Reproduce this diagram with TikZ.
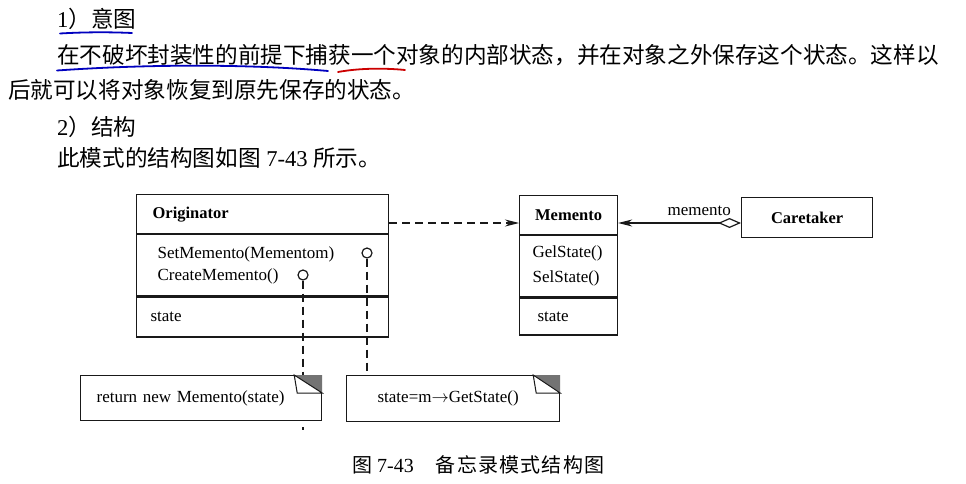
\documentclass[tikz,border=0pt]{standalone}
\usepackage{fontspec}
\setmainfont{Liberation Serif}
\newfontfamily\cjk{Noto Sans CJK SC}
\newfontfamily\cjkcap[LetterSpace=6]{Noto Sans CJK SC}
\usetikzlibrary{arrows.meta,calc}
\tikzset{>={Stealth[length=14pt,width=7pt]},
  body/.style={anchor=base west,inner sep=0pt,font=\fontsize{22.6}{26}\selectfont},
  umlpart/.style={draw=black!90,line width=1.2pt,anchor=north west,inner ysep=0pt,
    align=left,font=\fontsize{17}{22}\selectfont},
  umltitle/.style={umlpart,align=center,inner xsep=4pt,font=\fontsize{16.5}{20}\selectfont\bfseries},
  opcircle/.style={circle,draw=black!90,line width=1.2pt,inner sep=0pt,minimum size=10pt},
  notebox/.style={umlpart,minimum height=45pt},
  notelink/.style={draw=black!90,line width=1.2pt,dash pattern=on 8pt off 5pt},
  link/.style={draw=black!90,line width=1.2pt}}

\begin{document}
\begin{tikzpicture}[x=1pt,y=-1pt]
\useasboundingbox (0,0) rectangle (966,484);
% text above the figure
\node[body] (t1) at (57,27.5) {1{\cjk ）意图}};
\node[body] (t2) at (57,63.5) {\cjk 在不破坏封装性的前提下捕获一个对象的内部状态，并在对象之外保存这个状态。这样以};
\node[body] (t3) at (8,98.5) {\cjk 后就可以将对象恢复到原先保存的状态。};
\node[body] (t4) at (57,135.5) {2{\cjk ）结构}};
\node[body] (t5) at (57,166.5) {{\cjk 此模式的结构图如图} 7-43 {\cjk 所示。}};
\draw[blue!75!black,line width=1.8pt,line cap=round] (60,33.5) .. controls (85,32) and (110,32) .. (132,33);
\draw[blue!75!black,line width=1.8pt,line cap=round] (57,70.5) .. controls (150,64) and (250,64) .. (328,71);
\draw[red!80!black,line width=1.8pt,line cap=round] (338,72) .. controls (360,68) and (385,68) .. (405,70);

% Originator
\node[umltitle,text width=220pt,inner xsep=16pt,align=left,minimum height=39pt] (orig) at (136,194) {Originator};
\node[umlpart,text width=210pt,inner xsep=21pt,minimum height=61pt] (origops) at (orig.south west)
  {SetMemento(Mementom)\\CreateMemento()};
\node[umlpart,text width=224pt,inner xsep=14pt,minimum height=40pt] (origattr) at (origops.south west) {state};
\node[opcircle] (setc) at (367,253) {};
\node[opcircle] (crc) at (303,275) {};

% Memento
\node[umltitle,text width=90pt,minimum height=39pt] (mem) at (519,195) {Memento};
\node[umlpart,text width=72pt,inner xsep=13pt,minimum height=61pt,font=\fontsize{17}{25}\selectfont] (memops) at (mem.south west)
  {GelState()\\SelState()};
\node[umlpart,text width=62pt,inner xsep=18pt,minimum height=37pt] (memattr) at (memops.south west) {state};

% Caretaker
\node[umltitle,text width=123pt,minimum height=40pt] (care) at (741,197) {Caretaker};

% notes
\node[notebox,text width=209pt,inner xsep=16pt] (rnote) at (80,375) {return new Memento(state)};
\node[notebox,text width=151pt,inner xsep=31pt,minimum height=46pt] (snote) at (346,375) {state=m$\rightarrow$GetState()};
\foreach \n/\w in {rnote/28,snote/27}{
  \fill[black!55] (\n.north east) -- ++(-\w,0) -- ($(\n.north east)+(0,18)$) -- cycle;
  \draw[black!90,line width=1pt] ($(\n.north east)+(-\w,0)$) -- ++(3,18) -- ($(\n.north east)+(0,18)$) -- cycle;
}

% connectors
\coordinate (dep) at (orig.east |- 0,223);
\draw[notelink,->] (dep) -- (dep -| mem.west);
\coordinate (agg) at (care.west |- 0,223);
\draw[link,{Diamond[open,length=23pt,width=10pt]}->] (agg) -- node[above=3pt,pos=0.34,font=\fontsize{17}{20}\selectfont] (lblmem) {memento} (agg -| mem.east);
\draw[notelink] (setc.south) -- (setc |- snote.north);
\draw[notelink] (crc.south) -- (crc |- rnote.north);
\draw[notelink] ($(crc |- rnote.south)+(0,6)$) -- ++(0,3);

% caption
\node[anchor=base west,inner sep=0pt,font=\fontsize{20}{22}\selectfont] (cap) at (352,472)
  {{\cjk 图} 7-43\hspace{22pt}{\cjkcap 备忘录模式结构图}};
\end{tikzpicture}
\end{document}
